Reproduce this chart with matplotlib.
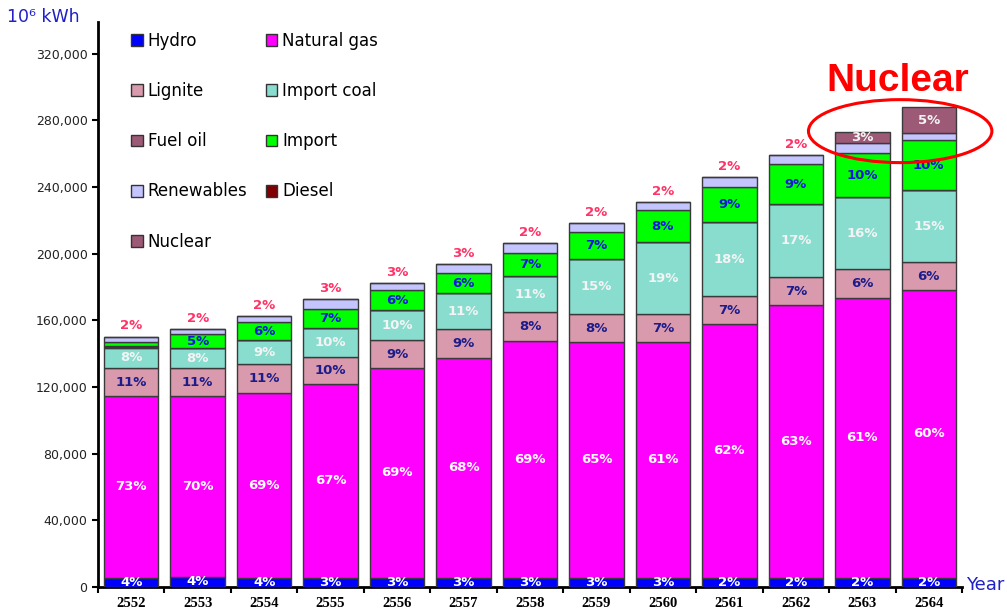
"""Stacked bar chart of electricity generation by fuel, 2552-2564."""

import numpy as np
import matplotlib.pyplot as plt
from matplotlib.patches import Patch, Ellipse

years = ['2552', '2553', '2554', '2555', '2556', '2557', '2558',
         '2559', '2560', '2561', '2562', '2563', '2564']

# generation, 10^6 kWh
hydro = [5700, 6300, 5700, 5600, 5600, 5600, 5600,
         5600, 5600, 5500, 5500, 5500, 5500]
natural_gas = [108900, 108300, 110700, 116200, 125800, 131800, 142000,
               141400, 141400, 152300, 163700, 167900, 172700]
lignite = [16800, 16800, 17400, 16200, 16800, 17400, 17400,
           16800, 16800, 16800, 16800, 17400, 16800]
import_coal = [12200, 12000, 14400, 17400, 18000, 21600, 21600,
               33000, 43200, 44400, 43800, 43200, 43200]
fuel_oil = [400, 0, 0, 0, 0, 0, 0, 0, 0, 0, 0, 0, 0]
diesel = [400, 0, 0, 0, 0, 0, 0, 0, 0, 0, 0, 0, 0]
imports = [2800, 8400, 10800, 11400, 12000, 12000, 13800,
           16200, 19200, 21000, 24000, 26400, 30000]
renewables = [3000, 3000, 3600, 6000, 4200, 5400, 6000,
              5400, 4800, 6000, 5400, 6000, 4200]
nuclear = [0, 0, 0, 0, 0, 0, 0, 0, 0, 0, 0, 6600, 15600]

# percentage labels printed on the bars ('' = no label)
hydro_pct = ['4%', '4%', '4%', '3%', '3%', '3%', '3%',
             '3%', '3%', '2%', '2%', '2%', '2%']
gas_pct = ['73%', '70%', '69%', '67%', '69%', '68%', '69%',
           '65%', '61%', '62%', '63%', '61%', '60%']
lignite_pct = ['11%', '11%', '11%', '10%', '9%', '9%', '8%',
               '8%', '7%', '7%', '7%', '6%', '6%']
coal_pct = ['8%', '8%', '9%', '10%', '10%', '11%', '11%',
            '15%', '19%', '18%', '17%', '16%', '15%']
import_pct = ['', '5%', '6%', '7%', '6%', '6%', '7%',
              '7%', '8%', '9%', '9%', '10%', '10%']
renew_pct = ['2%', '2%', '2%', '3%', '3%', '3%', '2%',
             '2%', '2%', '2%', '2%', '', '']
nuclear_pct = ['', '', '', '', '', '', '', '', '', '', '', '3%', '5%']

series = [
    ('Hydro', hydro, '#0000ff', hydro_pct, 'white'),
    ('Natural gas', natural_gas, '#ff00ff', gas_pct, 'white'),
    ('Lignite', lignite, '#d99aad', lignite_pct, '#1c1c8a'),
    ('Import coal', import_coal, '#88ddce', coal_pct, '#f4f4f4'),
    ('Fuel oil', fuel_oil, '#9c5a76', None, None),
    ('Diesel', diesel, '#800000', None, None),
    ('Import', imports, '#00ff00', import_pct, '#1515e0'),
    ('Renewables', renewables, '#c4c4ff', None, None),
    ('Nuclear', nuclear, '#9c5a76', nuclear_pct, '#f4f4f4'),
]

plt.rcParams['font.family'] = ['DejaVu Sans']
fig = plt.figure(figsize=(10.07, 6.12), dpi=100)
ax = fig.add_axes([0.0973, 0.0408, 0.858, 0.923])

x = np.arange(len(years))
bottom = np.zeros(len(years))
patches = {}
for name, vals, color, pcts, tcolor in series:
    vals = np.array(vals, dtype=float)
    bars = ax.bar(x, vals, 0.82, bottom=bottom, color=color,
                  edgecolor='#3a3a3a', linewidth=1.0, zorder=3)
    patches[name] = color
    if pcts is not None:
        for i in range(len(years)):
            if pcts[i] and vals[i] > 0:
                ax.text(x[i], bottom[i] + vals[i] / 2, pcts[i],
                        ha='center', va='center', color=tcolor,
                        fontsize=9.5, fontweight='bold', zorder=4)
    bottom += vals

# renewables share sits above each bar
for i in range(len(years)):
    if renew_pct[i]:
        ax.text(x[i], bottom[i] + 6500, renew_pct[i], ha='center',
                va='center', color='#ff3366', fontsize=9.5,
                fontweight='bold')

ax.set_xlim(-0.5, len(years) - 0.5)
ax.set_ylim(0, 339000)
ax.set_yticks(np.arange(0, 320001, 40000))
ax.set_yticklabels(['{:,}'.format(v) for v in range(0, 320001, 40000)],
                   fontsize=9, color='#222222')
ax.set_xticks(x)
ax.set_xticklabels(years, fontsize=10.5, fontweight='bold',
                   family='Liberation Serif')
ax.set_xticks(np.arange(-0.5, len(years), 1.0), minor=True)
ax.tick_params(axis='x', which='major', length=0, pad=7)
ax.tick_params(axis='x', which='minor', length=4, width=1.5)
ax.tick_params(axis='y', length=4, width=1.5)
for side in ['top', 'right']:
    ax.spines[side].set_visible(False)
ax.spines['left'].set_linewidth(2)
ax.spines['bottom'].set_linewidth(2)

# legend, filled row by row in the reference
order = ['Hydro', 'Lignite', 'Fuel oil', 'Renewables', 'Nuclear',
         'Natural gas', 'Import coal', 'Import', 'Diesel']
handles = [Patch(facecolor=patches[n], edgecolor='#333333', label=n)
           for n in order]
fig.legend(handles=handles, loc='upper left', ncol=2,
           bbox_to_anchor=(116 / 1007, 1 - 17 / 612), frameon=False,
           fontsize=12, labelspacing=1.93, handlelength=0.7,
           handleheight=0.7, handletextpad=0.3, columnspacing=1.1)

fig.text(7 / 1007, 1 - 17 / 612, '10⁶ kWh', color='#2020c8', fontsize=12.5,
         va='center', ha='left')
fig.text(966 / 1007, 1 - 585 / 612, 'Year', color='#2020c8', fontsize=13,
         va='center', ha='left')

# highlight on the nuclear share
ax.add_patch(Ellipse((11.57, 273600), 2.76, 37800, fill=False,
                     edgecolor='#ff0000', linewidth=2.2, zorder=5,
                     clip_on=False))
fig.text(898 / 1007, 1 - 81 / 612, 'Nuclear', color='#ff0000',
         fontsize=28, fontweight='bold', family='Liberation Sans',
         ha='center', va='center')

fig.savefig('out.png', dpi=100)
